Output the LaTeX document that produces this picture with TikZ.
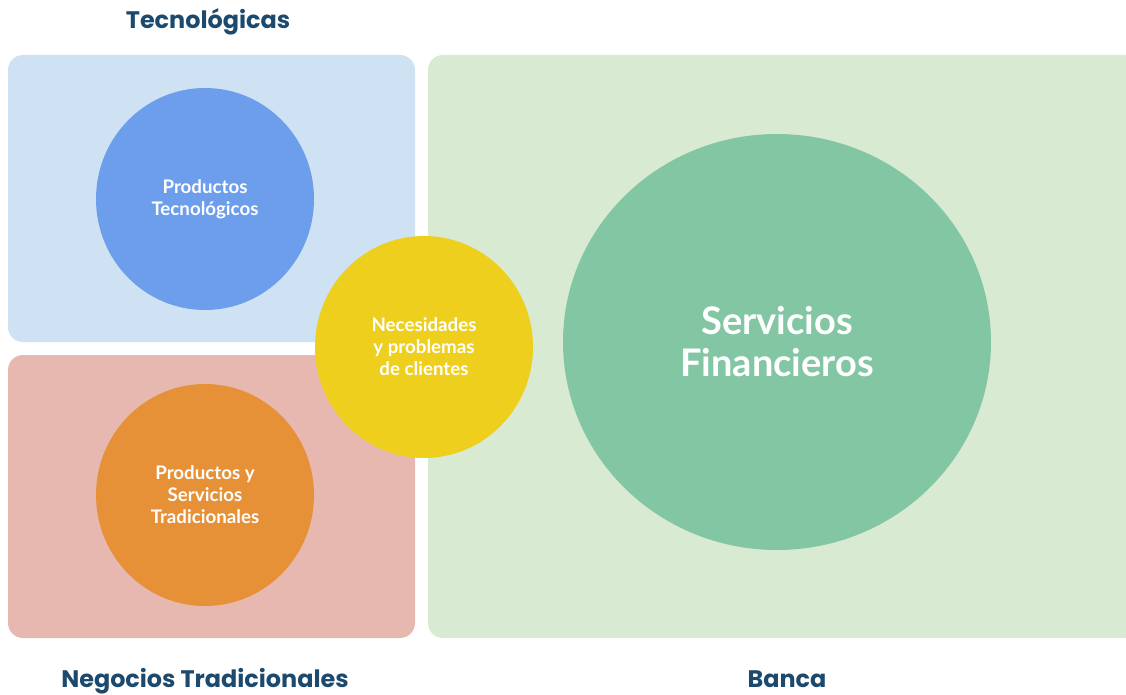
\documentclass[tikz,border=0pt]{standalone}
\usepackage{fontspec}
\setmainfont{Lato}
\newfontfamily\titlefont{Poppins}
\definecolor{bluebg}{HTML}{CFE2F3}
\definecolor{redbg}{HTML}{E6B8AF}
\definecolor{greenbg}{HTML}{D9EAD3}
\definecolor{bluec}{HTML}{6D9EEB}
\definecolor{orangec}{HTML}{E69138}
\definecolor{yellowc}{HTML}{EECF1E}
\definecolor{greenc}{HTML}{83C6A4}
\definecolor{titlec}{HTML}{1C4A6E}
\tikzset{
  panel/.style={rounded corners=15pt, draw=none},
  bubble/.style={ellipse, draw=none, text=white, align=center, font=\bfseries\fontsize{18.7}{22}\selectfont, inner sep=0pt},
  ttl/.style={text=titlec, font=\titlefont\bfseries\fontsize{23.9}{28}\selectfont, inner sep=0pt, anchor=base}
}
\usetikzlibrary{shapes.geometric}
\begin{document}
\begin{tikzpicture}[x=1pt,y=-1pt]
\useasboundingbox (0,0) rectangle (1126,695);
\fill[white] (0,0) rectangle (1126,695);
\fill[bluebg, panel] (8,55) rectangle (415,342);
\fill[redbg, panel] (8,355) rectangle (415,638);
\fill[greenbg, panel] (428,55) rectangle (1140,638);
\node[bubble, fill=bluec, minimum width=218pt, minimum height=222pt] (pt) at (205,199) {Productos\\Tecnológicos};
\node[bubble, fill=orangec, minimum width=218pt, minimum height=222pt] (ps) at (205,495) {Productos y\\Servicios\\Tradicionales};
\node[bubble, fill=yellowc, minimum width=218pt, minimum height=222pt] (nc) at (424,347) {Necesidades\\y problemas\\de clientes};
\node[bubble, fill=greenc, minimum width=428pt, minimum height=416pt, font=\bfseries\fontsize{38}{42}\selectfont] (sf) at (777,342) {Servicios\\Financieros};
\node[ttl] (t1) at (208,29) {Tecnológicas};
\node[ttl] (t2) at (205,687) {Negocios Tradicionales};
\node[ttl] (t3) at (787,687) {Banca};
\end{tikzpicture}
\end{document}
